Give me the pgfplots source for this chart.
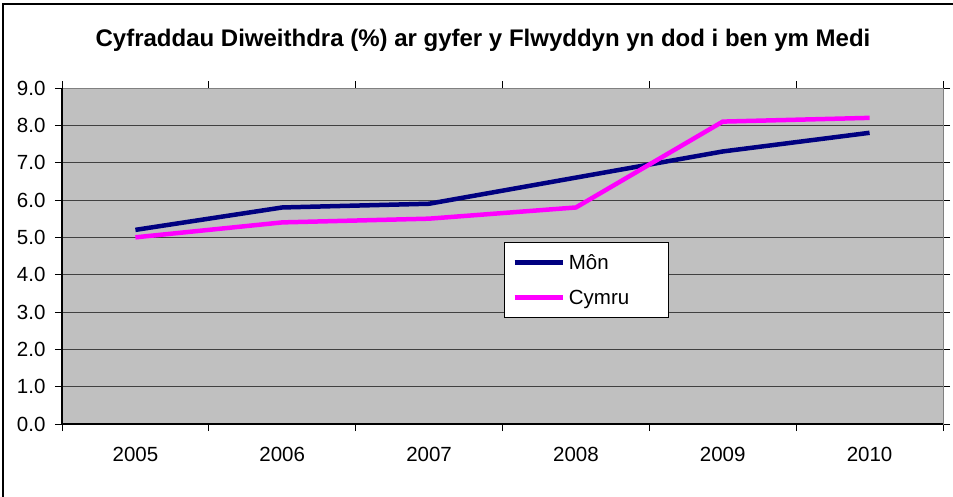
\documentclass[border=0pt]{standalone}
\usepackage{pgfplots}
\pgfplotsset{compat=1.18}
\usepackage{fontspec}
\setmainfont{Liberation Sans}
\definecolor{mon}{HTML}{000080}
\definecolor{cym}{HTML}{FF00FF}
\definecolor{bg}{HTML}{C0C0C0}
\begin{document}
\begin{tikzpicture}
\begin{axis}[
  at={(0,0)}, anchor=south west,
  scale only axis, width=881bp, height=336bp,
  xmin=0, xmax=6, ymin=0, ymax=9,
  axis background/.style={fill=bg},
  axis line style={draw=black!50, line width=1bp},
  xtick={0.5,1.5,2.5,3.5,4.5,5.5},
  xticklabels={2005,2006,2007,2008,2009,2010},
  minor xtick={0,1,2,3,4,5,6},
  major x tick style={draw=none},
  minor x tick style={draw=black, line width=0.8bp},
  tick align=outside,
  major tick length=7bp, minor tick length=7bp,
  ytick={0,1,...,9},
  y tick style={draw=black, line width=0.8bp},
  ymajorgrids,
  major grid style={black!75, line width=0.9bp},
  /pgf/number format/assume math mode=true,
  yticklabel={\pgfmathprintnumber[fixed,fixed zerofill,precision=1]{\tick}},
  tick label style={font=\fontsize{20.5bp}{24bp}\selectfont},
  xticklabel style={yshift=-13bp},
  yticklabel style={xshift=-6bp},
  legend style={at={(rel axis cs:0.5017,0.5417)}, anchor=north west,
    draw=black, fill=white, line width=0.8bp,
    font=\fontsize{20.5bp}{24bp}\selectfont,
    inner xsep=8bp, inner ysep=10bp, row sep=15bp,
    nodes={inner xsep=4bp},
    legend cell align=left},
  legend image code/.code={\draw[#1, line width=4.5bp] (0bp,0bp) -- (48bp,0bp);},
  clip=false,
]
\addplot[mon, line width=4.5bp] coordinates {(0.5,5.2) (1.5,5.8) (2.5,5.9) (3.5,6.6) (4.5,7.3) (5.5,7.8)};
\addlegendentry{\makebox[88bp][l]{Môn}}
\addplot[cym, line width=4.5bp] coordinates {(0.5,5.0) (1.5,5.4) (2.5,5.5) (3.5,5.8) (4.5,8.1) (5.5,8.2)};
\addlegendentry{\makebox[88bp][l]{Cymru}}
\draw[black, line width=1.2bp] (rel axis cs:0,1) -- (rel axis cs:0,0) -- (rel axis cs:1,0);
\end{axis}
\node[font=\bfseries\fontsize{24bp}{28bp}\selectfont] at (421bp,384bp) {Cyfraddau Diweithdra (\%) ar gyfer y Flwyddyn yn dod i ben ym Medi};
\draw[black, line width=1.5bp] (-59bp,-100bp) -- (-59bp,420bp) -- (920bp,420bp);
\pgfresetboundingbox
\path[use as bounding box] (-62bp,-73bp) rectangle (891bp,424bp);
\end{tikzpicture}
\end{document}
